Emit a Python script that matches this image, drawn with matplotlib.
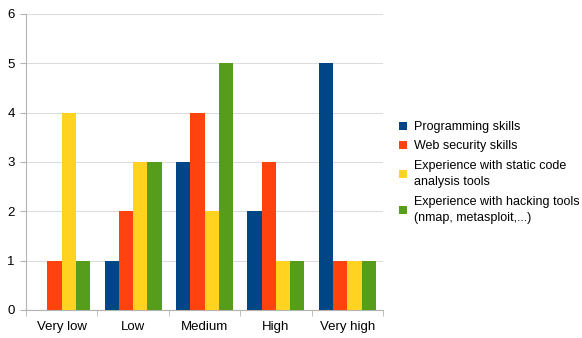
import matplotlib

matplotlib.use("Agg")
import matplotlib.pyplot as plt
import numpy as np
from matplotlib.patches import Patch

plt.rcParams["font.family"] = ["Liberation Sans", "DejaVu Sans"]

categories = ["Very low", "Low", "Medium", "High", "Very high"]
series_names = [
    "Programming skills",
    "Web security skills",
    "Experience with static code\nanalysis tools",
    "Experience with hacking tools\n(nmap, metasploit,...)",
]
programming = [0, 1, 3, 2, 5]
web_security = [1, 2, 4, 3, 1]
static_analysis = [4, 3, 2, 1, 1]
hacking_tools = [1, 3, 5, 1, 1]
colors = ["#004586", "#ff420e", "#ffd320", "#579d1c"]

fig = plt.figure(figsize=(5.82, 3.38), dpi=100)
ax = fig.add_axes([26 / 582, 28 / 338, 357 / 582, 296 / 338])

x = np.arange(len(categories))
width = 0.2
all_series = [programming, web_security, static_analysis, hacking_tools]
for i, (vals, col) in enumerate(zip(all_series, colors)):
    ax.bar(x + (i - 1.5) * width, vals, width, color=col, zorder=3)

ax.set_xlim(-0.5, len(categories) - 0.5)
ax.set_ylim(0, 6)
ax.set_yticks(range(0, 7))
ax.yaxis.grid(True, color="#dddddd", linewidth=0.8, zorder=0)
ax.set_xticks(x)
ax.set_xticklabels(categories, fontsize=9.5)
ax.tick_params(axis="x", length=0, pad=8)
ax.set_xticks(np.arange(-0.5, len(categories)), minor=True)
ax.tick_params(axis="x", which="minor", length=4, color="#b3b3b3")
ax.tick_params(axis="y", length=4, color="#b3b3b3", labelsize=9.5, pad=4)
for side in ["top", "right"]:
    ax.spines[side].set_visible(False)
for side in ["left", "bottom"]:
    ax.spines[side].set_color("#b3b3b3")

handles = [Patch(facecolor=c, edgecolor="none") for c in colors]
leg = fig.legend(handles, series_names, loc="upper left",
                 bbox_to_anchor=(399 / 582, 1 - 121 / 338), frameon=False,
                 fontsize=9, handlelength=0.6, handleheight=0.6,
                 handletextpad=0.6, labelspacing=0.6, borderaxespad=0,
                 borderpad=0)
for t in leg.get_texts():
    t.set_linespacing(1.45)

fig.savefig("out.png", dpi=100)
